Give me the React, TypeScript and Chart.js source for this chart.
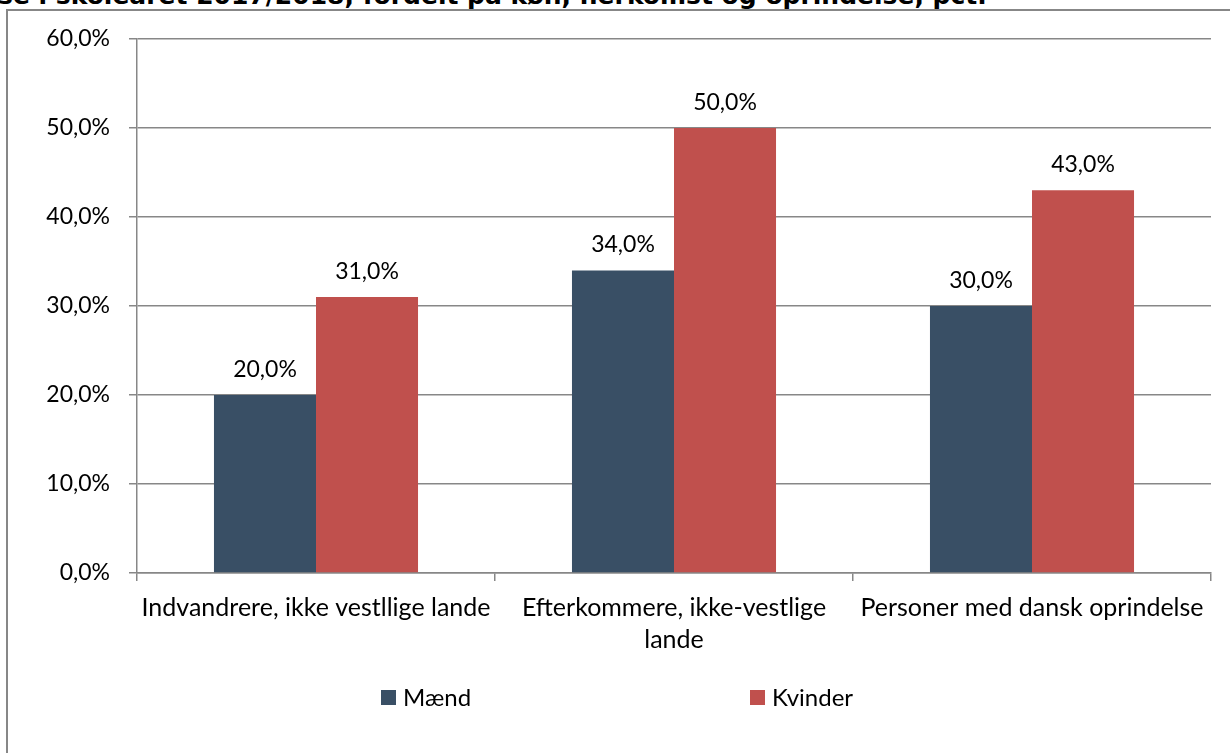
import React, { useEffect, useRef } from "react";
import { Chart, registerables } from "chart.js";

Chart.register(...registerables);

const titleText = "se i skoleåret 2017/2018, fordelt på køn, herkomst og oprindelse, pct.";
const categories: (string | string[])[] = [
  "Indvandrere, ikke vestllige lande",
  ["Efterkommere, ikke-vestlige", "lande"],
  "Personer med dansk oprindelse",
];
const seriesNames = ["Mænd", "Kvinder"];
const maendValues = [20, 34, 30];
const kvinderValues = [31, 50, 43];
const seriesColors = ["#394F65", "#C0504D"];
const yMin = 0;
const yMax = 60;
const yStep = 10;

const FONT = "Lato";
const fmt = (v: number) => v.toFixed(1).replace(".", ",") + "%";

const valueLabels = {
  id: "valueLabels",
  afterDatasetsDraw(chart: any) {
    const ctx = chart.ctx;
    ctx.save();
    ctx.font = `23px ${FONT}`;
    ctx.fillStyle = "#000";
    ctx.textAlign = "center";
    ctx.textBaseline = "alphabetic";
    chart.data.datasets.forEach((ds: any, i: number) => {
      const meta = chart.getDatasetMeta(i);
      meta.data.forEach((bar: any, j: number) => {
        ctx.fillText(fmt(ds.data[j]), bar.x, bar.y - 18);
      });
    });
    ctx.restore();
  },
};

export default function App() {
  const ref = useRef<HTMLCanvasElement>(null);
  useEffect(() => {
    if (!ref.current) return;
    const gridColor = "#878787";
    const chart = new Chart(ref.current, {
      type: "bar",
      data: {
        labels: categories as any,
        datasets: [
          {
            label: seriesNames[0],
            data: maendValues,
            backgroundColor: seriesColors[0],
            categoryPercentage: 0.57,
            barPercentage: 1,
          },
          {
            label: seriesNames[1],
            data: kvinderValues,
            backgroundColor: seriesColors[1],
            categoryPercentage: 0.57,
            barPercentage: 1,
          },
        ],
      },
      options: {
        responsive: false,
        animation: false,
        layout: { padding: { left: 0, top: 39, right: 19, bottom: 0 } },
        plugins: {
          legend: { display: false },
          tooltip: { enabled: false },
        },
        scales: {
          x: {
            grid: {
              display: true,
              drawOnChartArea: false,
              drawTicks: true,
              tickLength: 8,
              offset: true,
              color: gridColor,
              lineWidth: 1.5,
            },
            border: { display: true, color: gridColor, width: 1.5 },
            ticks: {
              color: "#000",
              font: { family: FONT, size: 25, lineHeight: 1.28 },
              padding: 11,
              maxRotation: 0,
              autoSkip: false,
            },
            afterFit: (s: any) => {
              s.height = 180;
            },
          },
          y: {
            min: yMin,
            max: yMax,
            grid: {
              color: gridColor,
              lineWidth: 1.5,
              drawTicks: true,
              tickLength: 8,
            },
            border: { display: true, color: gridColor, width: 1.5 },
            ticks: {
              stepSize: yStep,
              color: "#000",
              font: { family: FONT, size: 23 },
              padding: 19,
              callback: (v: any) => fmt(Number(v)),
            },
            afterFit: (s: any) => {
              s.width = 137;
            },
          },
        },
      },
      plugins: [valueLabels],
    });
    return () => chart.destroy();
  }, []);

  const legendItem = (i: number, left: number) => (
    <div
      style={{
        position: "absolute",
        left,
        top: 684,
        display: "flex",
        alignItems: "center",
        font: `24px ${FONT}`,
        color: "#000",
        lineHeight: "26px",
      }}
    >
      <span style={{ width: 15, height: 15, background: seriesColors[i], display: "inline-block", marginRight: 7 }} />
      <span>{seriesNames[i]}</span>
    </div>
  );

  return (
    <div
      style={{
        position: "fixed",
        left: 0,
        top: 0,
        width: 1230,
        height: 753,
        overflow: "hidden",
        background: "#fff",
      }}
    >
      <div
        style={{
          position: "absolute",
          left: -2,
          top: -16,
          whiteSpace: "nowrap",
          font: `bold 25px "DejaVu Sans"`,
          lineHeight: "24px",
          color: "#000",
        }}
      >
        {titleText}
      </div>
      <div
        style={{
          position: "absolute",
          left: 6,
          top: 9,
          width: 1300,
          height: 800,
          border: "2px solid #878787",
        }}
      />
      <canvas
        ref={ref}
        width={1230}
        height={753}
        style={{ position: "absolute", left: 0, top: 0, width: 1230, height: 753 }}
      />
      {legendItem(0, 381)}
      {legendItem(1, 750)}
    </div>
  );
}
